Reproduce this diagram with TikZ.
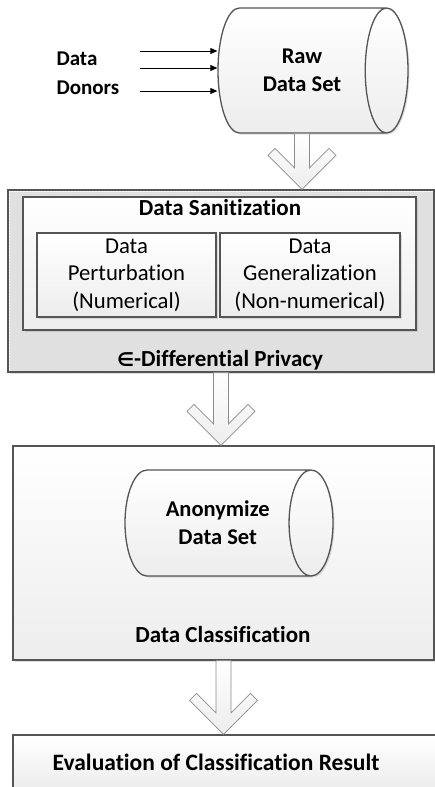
\documentclass[tikz,border=0pt]{standalone}
\usepackage{fontspec}
\setmainfont{Carlito}[Ligatures=NoCommon]
\newfontfamily\symfont{DejaVu Sans}
\usetikzlibrary{arrows.meta,positioning,calc,shapes.geometric,shadows,patterns}

\definecolor{linegray}{HTML}{555555}
\definecolor{shadegray}{HTML}{EDEDED}
\definecolor{arrgray}{HTML}{8C8C8C}

\newcommand{\hollowarrow}[2]{%
  \draw[blockarr] let \p1=(#1), \p2=(#2) in
    (\x1-7.5pt,\y1) -- (\x1-7.5pt,\y2+21.5pt) -- (\x1-27pt,\y2+41pt) -- (\x1-34pt,\y2+34pt)
    -- (\x1,\y2) -- (\x1+34pt,\y2+34pt) -- (\x1+27pt,\y2+41pt) -- (\x1+7.5pt,\y2+21.5pt)
    -- (\x1+7.5pt,\y1) -- cycle;}

\begin{document}
\begin{tikzpicture}[x=1pt, y=-1pt,
      box/.style={rectangle, draw=linegray, line width=1.3pt, inner sep=0pt,
                  top color=white, bottom color=shadegray,
                  drop shadow={shadow xshift=1.5pt, shadow yshift=-1.5pt, opacity=0.25}},
      hatchbox/.style={rectangle, draw=linegray, line width=1.3pt, inner sep=0pt,
                  preaction={fill=white}, pattern=north west lines, pattern color=gray!20,
                  drop shadow={shadow xshift=1.5pt, shadow yshift=-1.5pt, opacity=0.25}},
      dbase/.style={cylinder, draw=linegray, line width=1.3pt, inner sep=0pt, aspect=1,
                  top color=white, bottom color=shadegray, align=center,
                  font=\bfseries\fontsize{22.5}{28}\selectfont,
                  drop shadow={shadow xshift=1.5pt, shadow yshift=-1.5pt, opacity=0.25}},
      title/.style={font=\bfseries\fontsize{23}{28}\selectfont, align=center},
      plain/.style={font=\fontsize{22.7}{27.5}\selectfont, align=center},
      arr/.style={-{Triangle[length=7pt, width=6pt]}, line width=0.9pt},
      blockarr/.style={draw=arrgray, line width=0.8pt, top color=white, bottom color=shadegray}]
    \clip (0,0) rectangle (435,787);
    \node[dbase, minimum height=190pt, minimum width=125pt, anchor=shape center] (raw) at (313,70.5) {Raw\\Data Set};
    \node[title, font=\bfseries\fontsize{21}{29}\selectfont, align=left, anchor=west] (donors) at (53,73) {Data\\Donors};
    \coordinate (d1) at (140,51);
    \coordinate (d2) at (140,68);
    \coordinate (d3) at (140,91);
    \foreach \d in {d1,d2,d3}
      \draw[arr] (\d) -- (\d -| raw.west);

    \node[hatchbox, minimum width=426pt, minimum height=182pt] (priv) at (221,281) {};
    \node[box, minimum width=393pt, minimum height=133pt] (sanit) at (219.5,263.5) {};
    \node[title] (sanitlbl) at (220,208) {Data Sanitization};
    \node[box, plain, minimum width=179pt, minimum height=84pt] (pert) at (126.5,275) {Data\\Perturbation\\(Numerical)};
    \node[box, plain, minimum width=180pt, minimum height=84pt] (gen) at (310,275) {Data\\Generalization\\(Non-numerical)};
    \node[title] (privlbl) at (220,360) {{\symfont\bfseries\fontsize{19}{20}\selectfont ∈}-Differential Privacy};

    \node[box, minimum width=421pt, minimum height=214pt] (class) at (223.5,553) {};
    \node[dbase, minimum height=208pt, minimum width=106pt, anchor=shape center] (anon) at (229,523) {Anonymize\\Data Set};
    \node[title] (classlbl) at (223,635) {Data Classification};

    \node[box, minimum width=424pt, minimum height=54pt] (eval) at (225,762) {};
    \node[title, font=\bfseries\fontsize{23.5}{28}\selectfont] (evallbl) at (216,762) {Evaluation of Classification Result};

    \hollowarrow{raw.south}{raw.south |- priv.north}
    \hollowarrow{priv.south}{priv.south |- class.north}
    \hollowarrow{class.south}{class.south |- eval.north}
  \end{tikzpicture}
\end{document}
